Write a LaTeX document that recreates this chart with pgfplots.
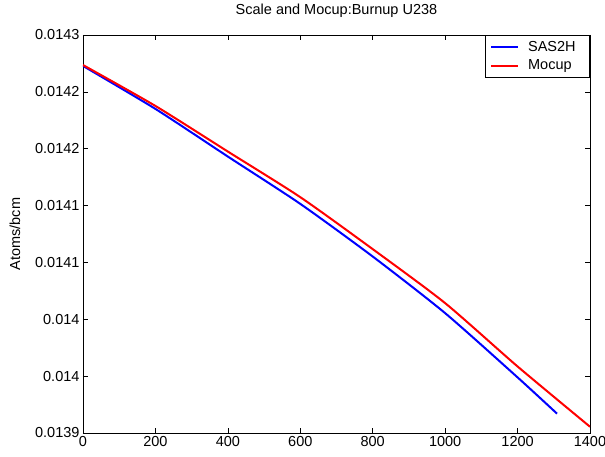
\documentclass[border=0pt]{standalone}
\usepackage{fontspec}
\setmainfont{Liberation Sans}
\usepackage{pgfplots}
\pgfplotsset{compat=1.18}

% U238 number density (atoms/b-cm) against burnup
\pgfplotstableread{
x y
0    0.0142228
200  0.0141850
400  0.0141431
600  0.0141015
800  0.0140552
1000 0.0140054
1200 0.0139489
1309 0.0139170
}\sastable
\pgfplotstableread{
x y
0    0.0142236
200  0.0141876
400  0.0141475
600  0.0141074
800  0.0140617
1000 0.0140142
1200 0.0139585
1400 0.0139055
}\mocuptable

\begin{document}
\begin{tikzpicture}
\begin{axis}[
  scale only axis,
  width=507pt, height=398pt,
  xmin=0, xmax=1400,
  ymin=0.0139, ymax=0.01425,
  xtick={0,200,...,1400},
  ytick={0.0139,0.01395,0.014,0.01405,0.0141,0.01415,0.0142,0.01425},
  yticklabels={0.0139,0.014,0.014,0.0141,0.0141,0.0142,0.0142,0.0143},
  scaled y ticks=false,
  /pgf/number format/assume math mode=true,
  /pgf/number format/1000 sep={},
  font=\fontsize{14.5}{17}\selectfont,
  tick align=inside,
  major tick length=5pt,
  tick style={black, line width=0.6pt},
  axis line style={black, line width=0.6pt},
  title={Scale and Mocup:Burnup U238},
  title style={at={(0.5,1)}, anchor=base, yshift=14pt},
  ylabel={Atoms/bcm},
  ylabel style={at={(axis description cs:-0.134,0.5)}, anchor=center},
  legend style={at={(1,1)}, anchor=north east, draw=black, line width=0.6pt,
    font=\fontsize{14.5}{17}\selectfont, inner xsep=5pt, inner ysep=4pt,
    row sep=3pt, cells={anchor=west}, nodes={inner xsep=9pt}},
  legend image code/.code={\draw[#1, line width=2pt] (0pt,0pt) -- (27pt,0pt);},
]
\addplot[blue, line width=2pt, smooth, tension=0.4] table[x=x, y=y] {\sastable};
\addlegendentry{SAS2H}
\addplot[red, line width=2pt, smooth, tension=0.4] table[x=x, y=y] {\mocuptable};
\addlegendentry{Mocup}
\end{axis}
\pgfresetboundingbox
\useasboundingbox ([xshift=-83pt,yshift=-24pt]current axis.south west)
  rectangle ([xshift=15pt,yshift=35pt]current axis.north east);
\end{tikzpicture}
\end{document}
